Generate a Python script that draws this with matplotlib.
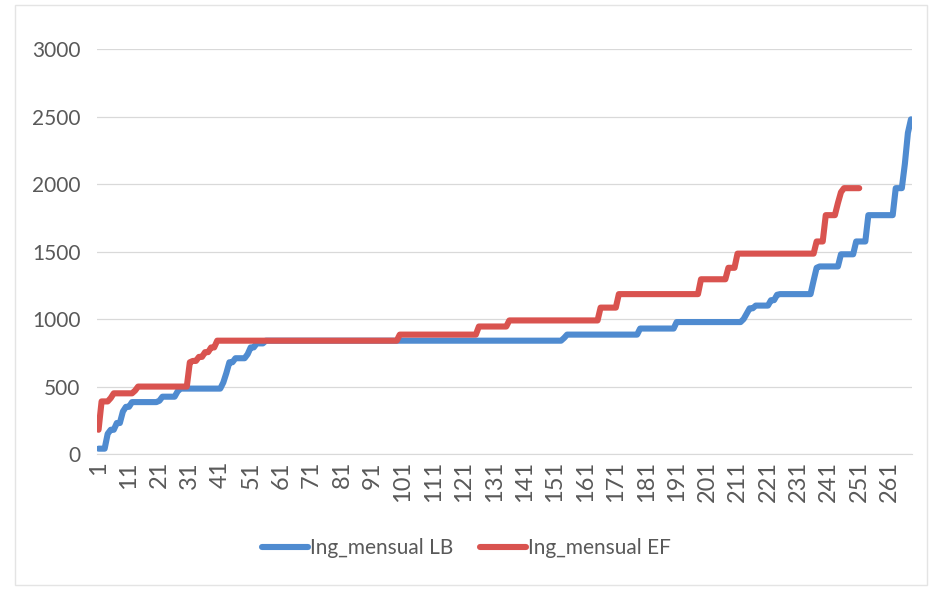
import numpy as np
import matplotlib
matplotlib.use("Agg")
import matplotlib.pyplot as plt
from matplotlib.patches import Rectangle

plt.rcParams['font.family'] = ['Lato', 'DejaVu Sans']

# Ing_mensual LB: sorted monthly income, stored as (level, run length) steps
lb_levels = [40, 150, 180, 230, 315, 350, 385, 395, 425, 465, 485, 530, 600,
             680, 710, 740, 790, 820, 840, 860, 885, 930, 978, 1000, 1040,
             1080, 1100, 1140, 1180, 1185, 1285, 1380, 1390, 1480, 1575,
             1770, 1970, 2150, 2380, 2480]
lb_runs = [3, 1, 2, 2, 1, 2, 9, 1, 5, 1, 14, 1, 1,
           2, 4, 1, 2, 3, 98, 1, 24, 12, 22, 1, 1,
           2, 5, 2, 1, 11, 1, 1, 7, 5, 4,
           9, 3, 1, 1, 1]

# Ing_mensual EF
ef_levels = [180, 390, 415, 450, 470, 500, 680, 690, 720, 755, 790, 840,
             885, 945, 990, 1085, 1185, 1295, 1380, 1485, 1575, 1770, 1860,
             1940, 1970]
ef_runs = [1, 3, 1, 7, 1, 17, 1, 2, 2, 2, 2, 60,
           26, 10, 30, 6, 27, 9, 3, 26, 3, 4, 1,
           1, 6]

y_ticks = [0, 500, 1000, 1500, 2000, 2500, 3000]

lb = np.repeat(lb_levels, lb_runs)
ef = np.repeat(ef_levels, ef_runs)
x_lb = np.arange(1, len(lb) + 1)
x_ef = np.arange(1, len(ef) + 1)
n_cat = max(len(lb), len(ef))

fig = plt.figure(figsize=(9.33, 5.92), dpi=100, facecolor='white')
ax = fig.add_axes([0.104, 0.233, 0.874, 0.684])

ax.plot(x_lb, lb, color='#4f8bd0', lw=4.4, solid_capstyle='round',
        solid_joinstyle='round', label='Ing_mensual LB', zorder=3)
ax.plot(x_ef, ef, color='#d9534f', lw=4.4, solid_capstyle='round',
        solid_joinstyle='round', label='Ing_mensual EF', zorder=4)

ax.set_xlim(0.5, n_cat + 0.5)
ax.set_ylim(0, 3000)
ax.set_yticks(y_ticks)
ax.set_xticks(np.arange(1, n_cat + 1, 10))
ax.set_xticklabels([str(v) for v in range(1, n_cat + 1, 10)], rotation=90)

ax.grid(axis='y', color='#d9d9d9', lw=0.9)
ax.set_axisbelow(True)
for side in ['top', 'right', 'left']:
    ax.spines[side].set_visible(False)
ax.spines['bottom'].set_color('#d9d9d9')
ax.tick_params(axis='both', length=0, labelcolor='#595959')
ax.tick_params(axis='y', pad=12, labelsize=15)
ax.tick_params(axis='x', pad=5, labelsize=17)

fig.legend(loc='center', bbox_to_anchor=(0.5, 0.074), ncol=2, frameon=False,
           fontsize=15, handlelength=2.2, handletextpad=0.1,
           columnspacing=1.3, labelcolor='#595959')

# chart area border
fig.patches.append(Rectangle((0.016, 0.012), 0.978, 0.98, transform=fig.transFigure,
                             fill=False, edgecolor='#e4e4e4', lw=1.0))

fig.savefig('out.png', dpi=100, facecolor='white')
